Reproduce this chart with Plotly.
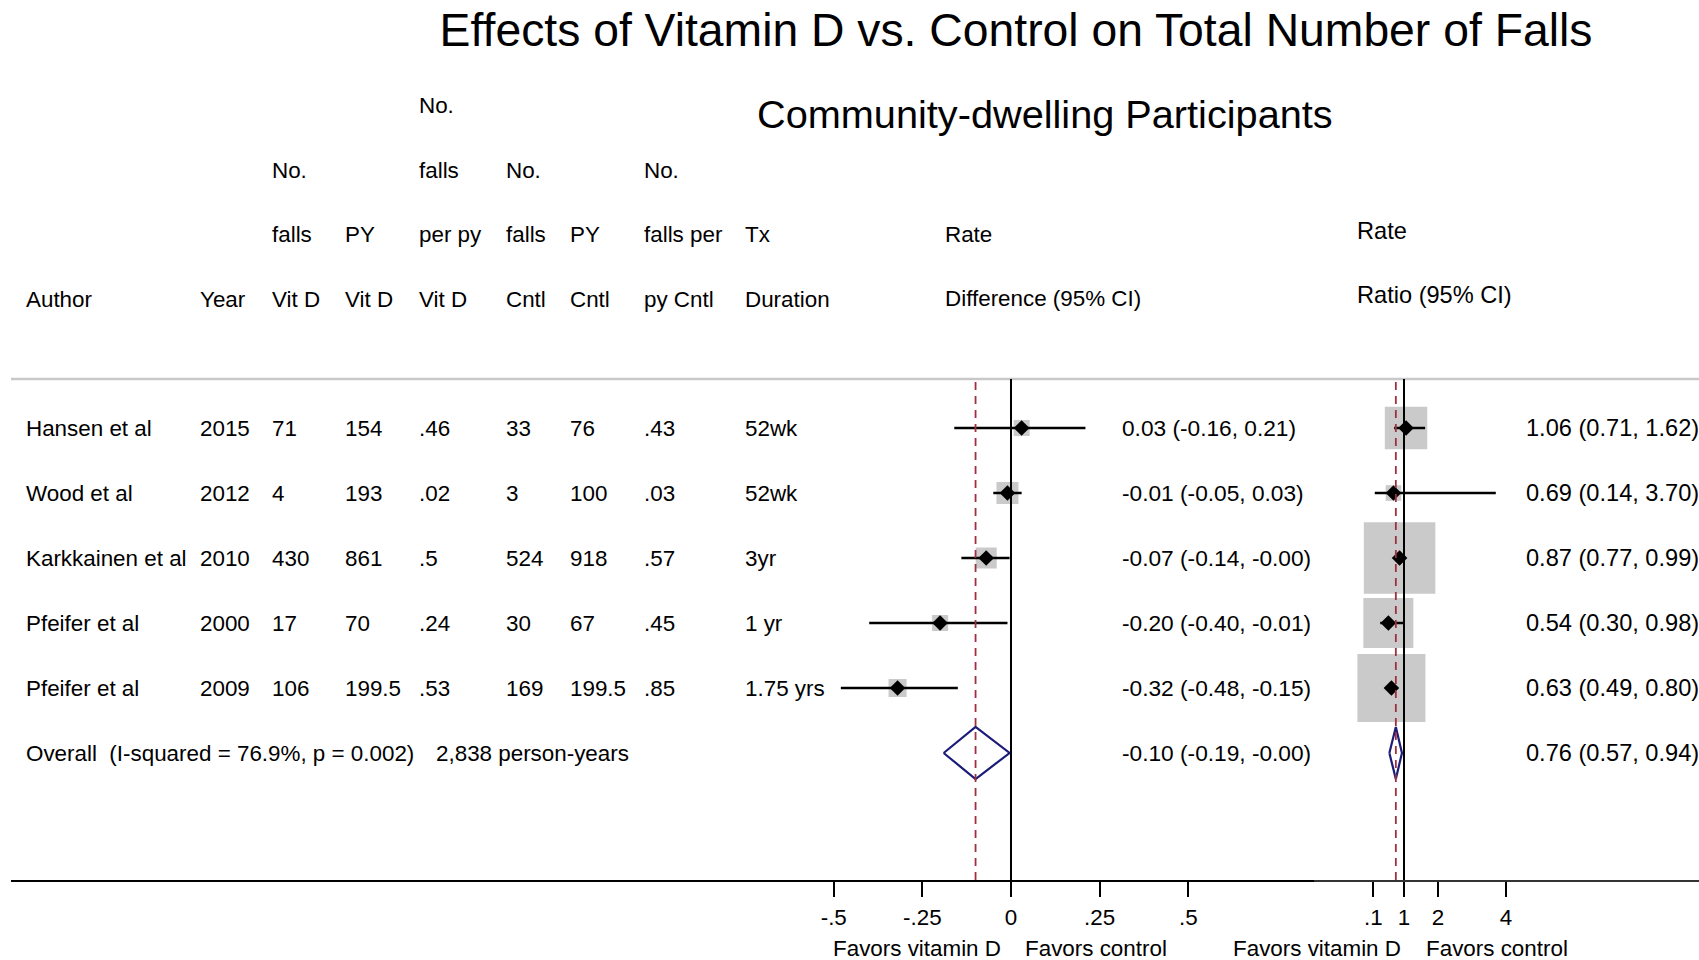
import plotly.graph_objects as go

W, H = 1699, 960

# ---------------- data ----------------
authors = ["Hansen et al", "Wood et al", "Karkkainen et al", "Pfeifer et al", "Pfeifer et al"]
years = [2015, 2012, 2010, 2000, 2009]
falls_vitd = [71, 4, 430, 17, 106]
py_vitd = [154, 193, 861, 70, 199.5]
rate_vitd = [0.46, 0.02, 0.5, 0.24, 0.53]
falls_cntl = [33, 3, 524, 30, 169]
py_cntl = [76, 100, 918, 67, 199.5]
rate_cntl = [0.43, 0.03, 0.57, 0.45, 0.85]
duration = ["52wk", "52wk", "3yr", "1 yr", "1.75 yrs"]

rd_est = [0.03, -0.01, -0.07, -0.20, -0.32]
rd_lo = [-0.16, -0.05, -0.14, -0.40, -0.48]
rd_hi = [0.21, 0.03, -0.004, -0.01, -0.15]
rd_weight = [14.5, 27.5, 25.0, 14.5, 18.5]
rd_overall = [-0.10, -0.19, -0.004]

rr_est = [1.06, 0.69, 0.87, 0.54, 0.63]
rr_lo = [0.71, 0.14, 0.77, 0.30, 0.49]
rr_hi = [1.62, 3.70, 0.99, 0.98, 0.80]
rr_weight = [12.6, 1.7, 35.8, 17.5, 32.4]
rr_overall = [0.76, 0.57, 0.94]

overall_label = "Overall  (I-squared = 76.9%, p = 0.002)"
overall_py = "2,838 person-years"

rd_ticks = [-0.5, -0.25, 0, 0.25, 0.5]
rd_ticktext = ["-.5", "-.25", "0", ".25", ".5"]
rr_ticks = [0.1, 1, 2, 4]
rr_ticktext = [".1", "1", "2", "4"]

title_text = "Effects of Vitamin D vs. Control on Total Number of Falls"
subtitle_text = "Community-dwelling Participants"

# ---------------- helpers ----------------
FONT = "Liberation Sans, Arial, sans-serif"
FS = 22.4      # table text
FS_RD = 22.7   # rate-difference column
FS_RR = 23.6   # rate-ratio panel text


def fx(p):
    return p / W


def fy(p):
    return 1 - p / H


def fmt(v):
    s = f"{v:g}"
    if s.startswith("0."):
        s = s[1:]
    return s


def ci(e, l, h):
    return f"{e:.2f} ({l:.2f}, {h:.2f})"


n = len(authors)
rows = list(range(n))
overall_row = n

fig = go.Figure()

# ---- rate difference panel (x / y) ----
fig.add_trace(go.Scatter(
    x=rd_est, y=rows, mode="markers", xaxis="x", yaxis="y",
    marker=dict(symbol="square", color="#b3b3b3",
                size=[4.2 * w ** 0.5 for w in rd_weight], line=dict(width=0)),
    hoverinfo="skip"))
xs, ys = [], []
for i in rows:
    xs += [rd_lo[i], rd_hi[i], None]
    ys += [i, i, None]
fig.add_trace(go.Scatter(x=xs, y=ys, mode="lines", xaxis="x", yaxis="y",
                         line=dict(color="black", width=2.5), hoverinfo="skip"))
fig.add_trace(go.Scatter(x=rd_est, y=rows, mode="markers", xaxis="x", yaxis="y",
                         marker=dict(symbol="diamond", color="black", size=12),
                         hoverinfo="skip"))
e, l, h = rd_overall
fig.add_trace(go.Scatter(
    x=[l, e, h, e, l], y=[overall_row, overall_row - 0.4, overall_row, overall_row + 0.4, overall_row],
    mode="lines", xaxis="x", yaxis="y", line=dict(color="#1b1b78", width=2.2),
    hoverinfo="skip"))

# ---- rate ratio panel (x2 / y2) ----
fig.add_trace(go.Scatter(
    x=rr_est, y=rows, mode="markers", xaxis="x2", yaxis="y2",
    marker=dict(symbol="square", color="#b3b3b3",
                size=[11.95 * w ** 0.5 for w in rr_weight], line=dict(width=0)),
    hoverinfo="skip"))
xs, ys = [], []
for i in rows:
    xs += [rr_lo[i], rr_hi[i], None]
    ys += [i, i, None]
fig.add_trace(go.Scatter(x=xs, y=ys, mode="lines", xaxis="x2", yaxis="y2",
                         line=dict(color="black", width=2.5), hoverinfo="skip"))
fig.add_trace(go.Scatter(x=rr_est, y=rows, mode="markers", xaxis="x2", yaxis="y2",
                         marker=dict(symbol="diamond", color="black", size=12),
                         hoverinfo="skip"))
e, l, h = rr_overall
fig.add_trace(go.Scatter(
    x=[l, e, h, e, l], y=[overall_row, overall_row - 0.4, overall_row, overall_row + 0.4, overall_row],
    mode="lines", xaxis="x2", yaxis="y2", line=dict(color="#1b1b78", width=2.2),
    hoverinfo="skip"))

# ---------------- axes ----------------
px_per_rd = 354.5
x0_rd = 1011
rd_dom = [11, 1314]
rr_dom = [1314, 1699]
px_per_rr = 34.0
x1_rr = 1404
row0_px, row_step = 428, 65
y_top_px, y_bot_px = 379, 880
yr = [(y_bot_px - row0_px) / row_step, (y_top_px - row0_px) / row_step]

tickfont = dict(family=FONT, size=FS, color="black")
fig.update_layout(
    xaxis=dict(domain=[fx(rd_dom[0]), fx(rd_dom[1])],
               range=[(rd_dom[0] - x0_rd) / px_per_rd, (rd_dom[1] - x0_rd) / px_per_rd],
               tickvals=rd_ticks, ticktext=rd_ticktext, ticks="outside", ticklen=15,
               tickwidth=2, tickcolor="black", showline=True, linecolor="black", linewidth=2,
               showgrid=False, zeroline=False, tickfont=tickfont, anchor="y",
               ticklabelstandoff=1),
    yaxis=dict(domain=[fy(y_bot_px), fy(y_top_px)], range=yr, visible=False,
               showgrid=False, zeroline=False),
    xaxis2=dict(domain=[fx(rr_dom[0]), fx(rr_dom[1])],
                range=[1 + (rr_dom[0] - x1_rr) / px_per_rr, 1 + (rr_dom[1] - x1_rr) / px_per_rr],
                tickvals=rr_ticks, ticktext=rr_ticktext, ticks="outside", ticklen=15,
                tickwidth=2, tickcolor="black", showline=True, linecolor="#333333", linewidth=1.6,
                showgrid=False, zeroline=False, tickfont=tickfont, anchor="y2",
                ticklabelstandoff=1),
    yaxis2=dict(domain=[fy(y_bot_px), fy(y_top_px)], range=yr, visible=False,
                showgrid=False, zeroline=False, anchor="x2"),
)

shapes = []
# reference lines
shapes.append(dict(type="line", xref="x", yref="y domain", x0=0, x1=0, y0=0, y1=1,
                   line=dict(color="black", width=2)))
shapes.append(dict(type="line", xref="x", yref="y domain", x0=rd_overall[0], x1=rd_overall[0],
                   y0=0, y1=1, line=dict(color="#a03040", width=1.8, dash="8px,6px")))
shapes.append(dict(type="line", xref="x2", yref="y2 domain", x0=1, x1=1, y0=0, y1=1,
                   line=dict(color="black", width=2)))
shapes.append(dict(type="line", xref="x2", yref="y2 domain", x0=rr_overall[0], x1=rr_overall[0],
                   y0=0, y1=1, line=dict(color="#a03040", width=1.8, dash="8px,6px")))
# top separator
shapes.append(dict(type="line", xref="paper", yref="paper", x0=fx(11), x1=1, y0=fy(y_top_px),
                   y1=fy(y_top_px), line=dict(color="#c8c8c8", width=2.5), layer="below"))

ann = []


def txt(x, y, s, size=FS, xanchor="left", yref="paper", xref="paper"):
    ann.append(dict(x=x, y=y, xref=xref, yref=yref, text=s, showarrow=False,
                    xanchor=xanchor, yanchor="middle",
                    font=dict(family=FONT, size=size, color="black")))


# header rows
hdr_cols = [24, 198, 270, 343, 417, 504, 568, 642, 743]
hdr = [
    ["", "", "", "", "No.", "", "", "", ""],
    ["", "", "No.", "", "falls", "No.", "", "No.", ""],
    ["", "", "falls", "PY", "per py", "falls", "PY", "falls per", "Tx"],
    ["Author", "Year", "Vit D", "Vit D", "Vit D", "Cntl", "Cntl", "py Cntl", "Duration"],
]
hdr_y = [105, 170, 235, 299]
for r, line in enumerate(hdr):
    for c, s in enumerate(line):
        if s:
            txt(fx(hdr_cols[c]), fy(hdr_y[r]), s)
txt(fx(943), fy(234), "Rate")
txt(fx(943), fy(298), "Difference (95% CI)")
txt(fx(1355), fy(231), "Rate", size=FS_RR)
txt(fx(1355), fy(295), "Ratio (95% CI)", size=FS_RR)

# study rows
for i in rows:
    vals = [authors[i], str(years[i]), fmt(falls_vitd[i]), fmt(py_vitd[i]), fmt(rate_vitd[i]),
            fmt(falls_cntl[i]), fmt(py_cntl[i]), fmt(rate_cntl[i]), duration[i]]
    for c, s in enumerate(vals):
        txt(fx(hdr_cols[c]), i, s, yref="y")
    txt(fx(1120), i, ci(rd_est[i], rd_lo[i], rd_hi[i]), size=FS_RD, yref="y")
    txt(fx(1524), i, ci(rr_est[i], rr_lo[i], rr_hi[i]), size=FS_RR, yref="y")

txt(fx(24), overall_row, overall_label, yref="y")
txt(fx(434), overall_row, overall_py, yref="y")
txt(fx(1120), overall_row, ci(*rd_overall), size=FS_RD, yref="y")
txt(fx(1524), overall_row, ci(*rr_overall), size=FS_RR, yref="y")

# favors labels
for xpx, s in [(831, "Favors vitamin D"), (1023, "Favors control"),
               (1231, "Favors vitamin D"), (1424, "Favors control")]:
    txt(fx(xpx), fy(948), s)

# subtitle
ann.append(dict(x=fx(1045), y=fy(114), xref="paper", yref="paper", text=subtitle_text,
                showarrow=False, xanchor="center", yanchor="middle",
                font=dict(family=FONT, size=39.7, color="black")))

fig.update_layout(
    width=W, height=H, margin=dict(l=0, r=0, t=0, b=0),
    paper_bgcolor="white", plot_bgcolor="rgba(0,0,0,0)",
    showlegend=False, shapes=shapes, annotations=ann,
    title=dict(text=title_text, x=fx(1016), y=fy(30), xanchor="center", yanchor="middle",
               xref="paper", yref="paper",
               font=dict(family=FONT, size=46.3, color="black")),
)

fig.write_html("out.html")
